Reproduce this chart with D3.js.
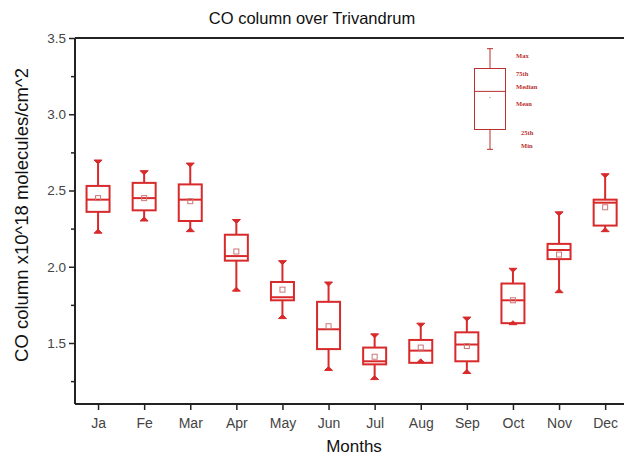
<!DOCTYPE html>
<html lang="en">
<head>
  <meta charset="UTF-8" />
  <title>CO column over Trivandrum</title>
  <style>
    html, body { margin: 0; background: #fff; }
    svg { display: block; font-family: "Liberation Sans", Arial, sans-serif; }
    .tick text { fill: #444; }
    .legend-text { font-family: "Liberation Serif", serif; font-weight: bold; font-size: 6.5px; fill: #b8312f; }
  </style>
  <script src="https://d3js.org/d3.v7.min.js"></script>
</head>
<body>
  <svg id="chart" width="624" height="455"></svg>
  <script>
    // monthly CO column stats (x10^18 molecules/cm^2)
    const months = ["Ja", "Fe", "Mar", "Apr", "May", "Jun", "Jul", "Aug", "Sep", "Oct", "Nov", "Dec"];
    const maxVals = [2.70, 2.63, 2.68, 2.31, 2.04, 1.90, 1.56, 1.63, 1.67, 1.99, 2.36, 2.61];
    const q3Vals = [2.53, 2.55, 2.54, 2.21, 1.90, 1.77, 1.47, 1.52, 1.57, 1.89, 2.15, 2.44];
    const medianVals = [2.44, 2.45, 2.44, 2.07, 1.80, 1.59, 1.38, 1.45, 1.49, 1.78, 2.11, 2.42];
    const meanVals = [2.45, 2.45, 2.43, 2.10, 1.85, 1.61, 1.41, 1.47, 1.48, 1.78, 2.08, 2.39];
    const q1Vals = [2.36, 2.37, 2.30, 2.04, 1.78, 1.46, 1.36, 1.37, 1.38, 1.63, 2.05, 2.27];
    const minVals = [2.22, 2.30, 2.23, 1.84, 1.66, 1.32, 1.26, 1.37, 1.30, 1.62, 1.83, 2.23];
    const yTicks = [1.5, 2.0, 2.5, 3.0, 3.5];
    const yMinorTicks = [1.25, 1.75, 2.25, 2.75, 3.25];
    // legend box: key, value
    const legendKeys = ["Max", "75th", "Median", "Mean", "25th", "Min"];
    const legendVals = [3.43, 3.30, 3.15, 3.11, 2.90, 2.77];

    const svg = d3.select("#chart");
    const plotLeft = 75, plotTop = 38, plotBottom = 404;
    const red = "#d8292b";

    // plot continues past the right edge of the picture (cropped)
    const x = d3.scalePoint().domain(months).range([plotLeft, plotLeft + 12 * 46.1]).padding(0.5);
    const y = d3.scaleLinear().domain([1.1, 3.5]).range([plotBottom, plotTop]);
    const boxW = 23;

    const data = months.map((m, i) => ({
      m, max: maxVals[i], q3: q3Vals[i], med: medianVals[i], mean: meanVals[i], q1: q1Vals[i], min: minVals[i]
    }));

    // title
    svg.append("text").attr("x", 312).attr("y", 24).attr("text-anchor", "middle")
      .attr("font-size", 16.5).attr("fill", "#111").text("CO column over Trivandrum");

    // top frame line
    svg.append("line").attr("x1", plotLeft).attr("x2", 624).attr("y1", plotTop).attr("y2", plotTop)
      .attr("stroke", "#222").attr("stroke-width", 2);

    // axes
    const yAxis = svg.append("g").attr("transform", `translate(${plotLeft},0)`)
      .call(d3.axisLeft(y).tickValues(yTicks).tickFormat(d3.format(".1f")).tickSize(6).tickSizeOuter(0));
    yAxis.selectAll(".tick text").attr("font-size", 13.5);
    svg.append("g").attr("transform", `translate(${plotLeft},0)`)
      .call(d3.axisLeft(y).tickValues(yMinorTicks).tickFormat("").tickSize(4).tickSizeOuter(0))
      .select(".domain").remove();
    const xAxis = svg.append("g").attr("transform", `translate(0,${plotBottom})`)
      .call(d3.axisBottom(x).tickSize(6).tickSizeOuter(0).tickPadding(8));
    xAxis.selectAll(".tick text").attr("font-size", 14);
    svg.selectAll(".domain").attr("stroke", "#222").attr("stroke-width", 2);
    svg.selectAll(".tick line").attr("stroke", "#222").attr("stroke-width", 1.5);
    yAxis.selectAll(".domain").attr("d", `M0,${plotTop}V${plotBottom}`);
    xAxis.select(".domain").attr("d", `M${plotLeft},0H624`);

    // axis titles
    svg.append("text").attr("x", 354).attr("y", 452).attr("text-anchor", "middle")
      .attr("font-size", 17).attr("fill", "#111").text("Months");
    svg.append("text").attr("transform", "translate(28,215) rotate(-90)").attr("text-anchor", "middle")
      .attr("font-size", 18.5).attr("fill", "#111").text("CO column x10^18 molecules/cm^2");

    // boxes
    const g = svg.append("g").selectAll("g").data(data).join("g");
    g.append("line").attr("x1", d => x(d.m)).attr("x2", d => x(d.m))
      .attr("y1", d => y(d.max)).attr("y2", d => y(d.q3)).attr("stroke", red).attr("stroke-width", 2);
    g.append("line").attr("x1", d => x(d.m)).attr("x2", d => x(d.m))
      .attr("y1", d => y(d.q1)).attr("y2", d => y(d.min)).attr("stroke", red).attr("stroke-width", 2);
    g.append("rect").attr("x", d => x(d.m) - boxW / 2).attr("width", boxW)
      .attr("y", d => y(d.q3)).attr("height", d => y(d.q1) - y(d.q3))
      .attr("fill", "none").attr("stroke", red).attr("stroke-width", 2);
    g.append("line").attr("x1", d => x(d.m) - boxW / 2).attr("x2", d => x(d.m) + boxW / 2)
      .attr("y1", d => y(d.med)).attr("y2", d => y(d.med)).attr("stroke", red).attr("stroke-width", 2);
    g.append("rect").attr("x", d => x(d.m) - 2.5).attr("y", d => y(d.mean) - 2.5)
      .attr("width", 5).attr("height", 5).attr("fill", "none").attr("stroke", "#c77").attr("stroke-width", 1);
    // whisker end markers
    g.append("path").attr("d", d => {
      const cx = x(d.m), t = y(d.max);
      return `M${cx - 4},${t}H${cx + 4}L${cx},${t + 4}Z`;
    }).attr("fill", red).attr("stroke", red).attr("stroke-width", 1);
    g.append("path").attr("d", d => {
      const cx = x(d.m), b = y(d.min);
      return `M${cx - 4},${b}H${cx + 4}L${cx},${b - 4}Z`;
    }).attr("fill", red).attr("stroke", red).attr("stroke-width", 1);

    // legend
    const lc = "#b8312f";
    const lx = 490, lw = 31;
    const L = {};
    legendKeys.forEach((k, i) => L[k] = y(legendVals[i]));
    const lg = svg.append("g");
    lg.append("line").attr("x1", lx).attr("x2", lx).attr("y1", L.Max).attr("y2", L["75th"]).attr("stroke", lc);
    lg.append("line").attr("x1", lx).attr("x2", lx).attr("y1", L["25th"]).attr("y2", L.Min).attr("stroke", lc);
    lg.append("line").attr("x1", lx - 3).attr("x2", lx + 3).attr("y1", L.Max).attr("y2", L.Max).attr("stroke", lc);
    lg.append("line").attr("x1", lx - 3).attr("x2", lx + 3).attr("y1", L.Min).attr("y2", L.Min).attr("stroke", lc);
    lg.append("rect").attr("x", lx - lw / 2).attr("y", L["75th"]).attr("width", lw)
      .attr("height", L["25th"] - L["75th"]).attr("fill", "none").attr("stroke", lc);
    lg.append("line").attr("x1", lx - lw / 2).attr("x2", lx + lw / 2).attr("y1", L.Median).attr("y2", L.Median).attr("stroke", lc);
    lg.append("circle").attr("cx", lx).attr("cy", L.Mean).attr("r", 0.8).attr("fill", "#caa");
    const labelPos = { Max: [516, 9], "75th": [516, 7], Median: [516, -2], Mean: [516, 9], "25th": [521, 5], Min: [521, -1] };
    legendKeys.forEach(k => {
      lg.append("text").attr("class", "legend-text").attr("x", labelPos[k][0])
        .attr("y", L[k] + labelPos[k][1]).text(k);
    });
  </script>
</body>
</html>
